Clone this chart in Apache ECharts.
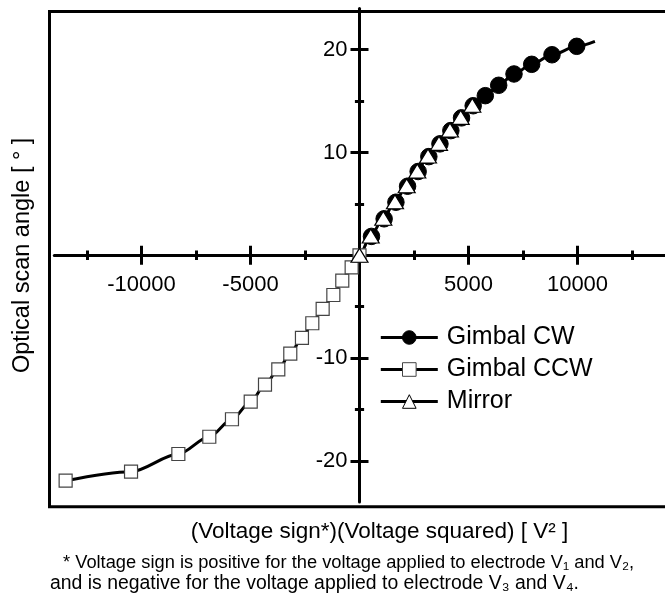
<!DOCTYPE html>
<html>
<head>
<meta charset="utf-8">
<script src="https://cdn.jsdelivr.net/npm/echarts@6/dist/echarts.min.js"></script>
<style>
html,body{margin:0;padding:0;background:#fff;}
#chart{width:665px;height:595px;}
</style>
</head>
<body>
<div id="chart"></div>
<script>
// ---- data ----
const seriesNames = ['Gimbal CW', 'Gimbal CCW', 'Mirror'];

const gimbalCW = [
  [550, 1.84], [1130, 3.55], [1670, 5.16], [2205, 6.72], [2690, 8.15],
  [3180, 9.6], [3690, 10.84], [4190, 12.13], [4680, 13.37], [5215, 14.55],
  [5771, 15.53], [6385, 16.54], [7087, 17.64], [7899, 18.58], [8830, 19.51], [9963, 20.33]
];
const gimbalCCW = [
  [-13480, -21.93], [-10480, -21.05], [-8310, -19.33], [-6890, -17.65], [-5850, -15.95],
  [-4990, -14.24], [-4335, -12.59], [-3725, -11.09], [-3175, -9.57], [-2640, -8.04],
  [-2165, -6.61], [-1690, -5.22], [-1200, -3.86], [-790, -2.47], [-360, -1.17], [0, 0]
];
const mirror = [
  [0, 0], [514, 1.88], [1092, 3.6], [1628, 5.21], [2165, 6.77], [2651, 8.2],
  [3142, 9.66], [3647, 10.89], [4151, 12.19], [4642, 13.42], [5174, 14.59]
];
// end of the drawn fit curve beyond the last measured point
const fitCurveEnd = [[10800, 20.82]];

const xMajorTicks = [-10000, -5000, 5000, 10000];
const xMinorTicks = [-12500, -7500, -2500, 2500, 7500, 12500];
const yMajorTicks = [-20, -10, 10, 20];
const yMinorTicks = [-15, -5, 5, 15];
const xRange = [-14000, 14000];
const yRange = [-24, 24];

const xTitle = '(Voltage sign*)(Voltage squared) [ V\u00B2 ]';
const yTitle = 'Optical scan angle [ \u00B0 ]';
const note1 = '* Voltage sign is positive for the voltage applied to electrode V\u2081 and V\u2082,';
const note2 = 'and is negative for the voltage applied to electrode V\u2083 and V\u2084.';

// ---- layout ----
const FONT = '"Liberation Sans", Arial, Helvetica, sans-serif';
const G = {left: 54.3, top: 8.6, width: 610.4, height: 493.4};
// the axes cross at the data origin, which is the centre of the symmetric ranges
const xAxisOffset = -G.height / 2;
const yAxisOffset = -G.width / 2;

const fitData = gimbalCCW.concat(mirror.slice(1), gimbalCW.slice(10), fitCurveEnd)
  .sort((a, b) => a[0] - b[0]);

function xAxisDef(ticks, len, inside, main) {
  return {
    type: 'value', min: xRange[0], max: xRange[1], position: 'bottom', offset: xAxisOffset,
    axisLine: {show: main, onZero: false, lineStyle: {color: '#000', width: 3}},
    axisTick: {show: true, customValues: ticks, length: len, inside: inside, lineStyle: {color: '#000', width: 3}},
    axisLabel: main ? {show: true, customValues: xMajorTicks, margin: 18.5, fontSize: 22, color: '#000',
      fontFamily: FONT, formatter: v => String(v)} : {show: false},
    splitLine: {show: false},
    name: main ? xTitle : '',
    nameLocation: 'middle', nameGap: 265, nameMoveOverlap: false,
    nameTextStyle: {fontSize: 22.5, color: '#000', fontFamily: FONT, padding: [0, 0, 0, 40]}
  };
}
function yAxisDef(ticks, len, inside, main) {
  return {
    type: 'value', min: yRange[0], max: yRange[1], position: 'left', offset: yAxisOffset,
    axisLine: {show: main, onZero: false, lineStyle: {color: '#000', width: 3}},
    axisTick: {show: true, customValues: ticks, length: len, inside: inside, lineStyle: {color: '#000', width: 3}},
    axisLabel: main ? {show: true, customValues: yMajorTicks, margin: 12, fontSize: 22, color: '#000',
      fontFamily: FONT, formatter: v => String(v)} : {show: false},
    splitLine: {show: false},
    name: main ? yTitle : '',
    nameLocation: 'middle', nameGap: 325, nameMoveOverlap: false,
    nameTextStyle: {fontSize: 23.5, color: '#000', fontFamily: FONT}
  };
}

const chart = echarts.init(document.getElementById('chart'), null, {renderer: 'canvas'});
chart.setOption({
  animation: false,
  backgroundColor: '#fff',
  textStyle: {fontFamily: FONT},
  grid: {left: G.left, top: G.top, width: G.width, height: G.height, containLabel: false, outerBoundsMode: 'none'},
  xAxis: [
    xAxisDef(xMajorTicks, 9.5, false, true),
    xAxisDef(xMajorTicks, 9.5, true, false),
    xAxisDef(xMinorTicks, 4.7, false, false),
    xAxisDef(xMinorTicks, 4.7, true, false)
  ],
  yAxis: [
    yAxisDef(yMajorTicks, 9, false, true),
    yAxisDef(yMajorTicks, 9, true, false),
    yAxisDef(yMinorTicks, 4.6, false, false),
    yAxisDef(yMinorTicks, 4.6, true, false)
  ],
  legend: {
    data: seriesNames,
    orient: 'vertical', left: 379.3, top: 325, padding: 0,
    itemWidth: 57, itemHeight: 17, itemGap: 7,
    selectedMode: false,
    textStyle: {fontSize: 25, color: '#000', fontFamily: FONT, lineHeight: 25, padding: [0, 0, 0, 4]},
    lineStyle: {width: 3, color: '#000', opacity: 1},
    itemStyle: {borderWidth: 1}
  },
  graphic: [
    {type: 'rect', silent: true, z: 0,
     shape: {x: 49.5, y: 11.5, width: 700, height: 495.2},
     style: {fill: 'none', stroke: '#000', lineWidth: 3}},
    {type: 'text', silent: true, x: 63, y: 563,
     style: {text: note1, fill: '#000', font: '18.3px ' + FONT, align: 'left', verticalAlign: 'middle'}},
    {type: 'text', silent: true, x: 50, y: 584,
     style: {text: note2, fill: '#000', font: '19.4px ' + FONT, align: 'left', verticalAlign: 'middle'}}
  ],
  series: [
    {name: 'fit', type: 'line', data: fitData, xAxisIndex: 0, yAxisIndex: 0,
     smooth: 0.3, smoothMonotone: 'x', symbol: 'none', silent: true,
     lineStyle: {color: '#000', width: 3}, emphasis: {disabled: true}},
    {name: seriesNames[0], type: 'line', data: gimbalCW, xAxisIndex: 0, yAxisIndex: 0,
     symbol: 'circle', symbolSize: 16.5, showSymbol: true,
     itemStyle: {color: '#000', borderColor: '#000', borderWidth: 1},
     lineStyle: {color: '#000', width: 3, opacity: 0}, emphasis: {disabled: true}},
    {name: seriesNames[1], type: 'line', data: gimbalCCW, xAxisIndex: 0, yAxisIndex: 0,
     symbol: 'rect', symbolSize: 13, showSymbol: true,
     itemStyle: {color: '#fff', borderColor: '#444', borderWidth: 1.2},
     lineStyle: {color: '#000', width: 3, opacity: 0}, emphasis: {disabled: true}},
    {name: seriesNames[2], type: 'line', data: mirror, xAxisIndex: 0, yAxisIndex: 0,
     symbol: 'triangle', symbolSize: [17, 14], showSymbol: true,
     itemStyle: {color: '#fff', borderColor: '#000', borderWidth: 1.2},
     lineStyle: {color: '#000', width: 3, opacity: 0}, emphasis: {disabled: true}}
  ]
});
</script>
</body>
</html>
